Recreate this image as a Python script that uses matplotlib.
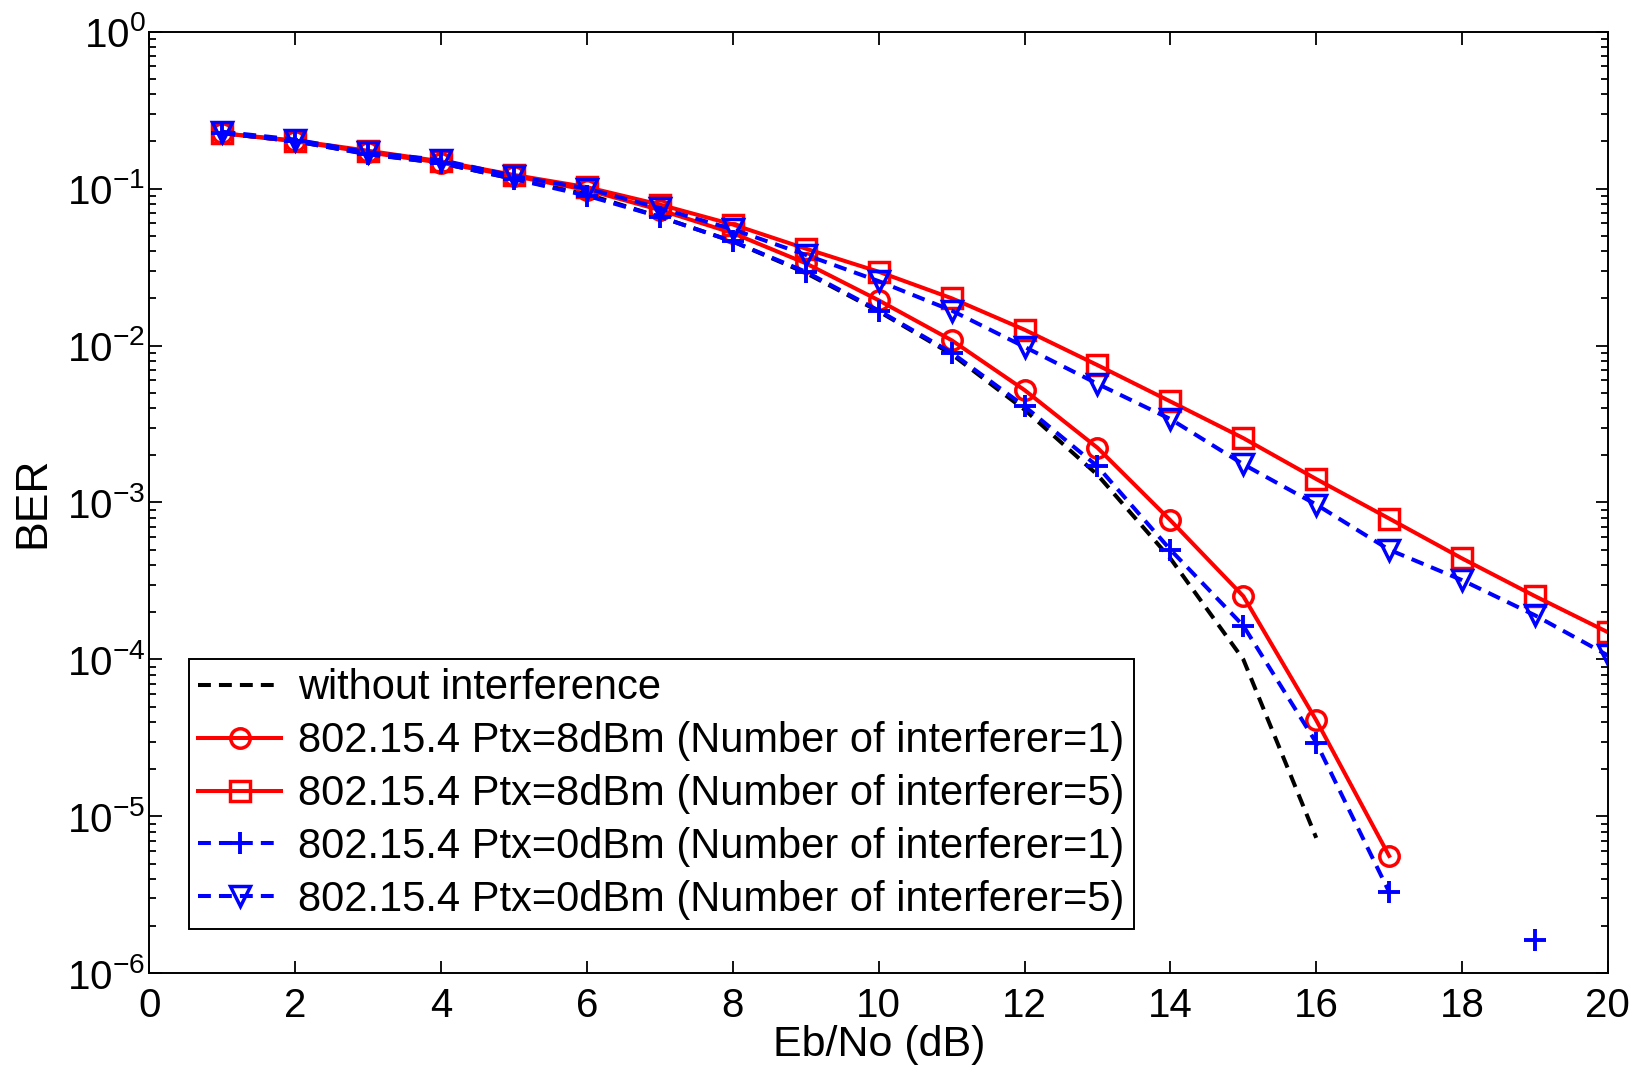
import numpy as np
import matplotlib
matplotlib.use("Agg")
import matplotlib.pyplot as plt
from matplotlib.ticker import LogLocator, NullFormatter

plt.rcParams['font.family'] = ['Liberation Sans', 'DejaVu Sans']
plt.rcParams['mathtext.fontset'] = 'custom'
plt.rcParams['mathtext.rm'] = 'Liberation Sans'
plt.rcParams['mathtext.it'] = 'Liberation Sans:italic'
plt.rcParams['mathtext.bf'] = 'Liberation Sans:bold'

# Eb/No axis (dB)
ebno = np.arange(1, 21)
ebno_ref = np.arange(1, 17)
ebno_c1 = np.arange(1, 18)

# BER
ber_no_interf = [0.225, 0.2, 0.166, 0.145, 0.115, 0.092, 0.066, 0.046,
                 0.029, 0.0165, 0.0088, 0.0039, 0.0015, 0.00044, 1.0e-4, 7.3e-6]
ber_8dbm_n1 = [0.225, 0.2, 0.17, 0.146, 0.12, 0.098, 0.073, 0.052,
               0.0334, 0.0194, 0.0108, 0.0052, 0.00223, 0.00077, 0.000253,
               4.1e-5, 5.6e-6]
ber_8dbm_n5 = [0.225, 0.202, 0.174, 0.149, 0.122, 0.102, 0.079, 0.059,
               0.0414, 0.0295, 0.020, 0.0126, 0.0075, 0.0044, 0.00257,
               0.00141, 0.00079, 0.00044, 0.000253, 0.000149]
ber_0dbm_n1 = [0.225, 0.2, 0.165, 0.145, 0.115, 0.09, 0.066, 0.046,
               0.0295, 0.0167, 0.009, 0.0041, 0.0017, 0.0005, 0.000164,
               2.95e-5, 3.3e-6, None, 1.64e-6, None]
ber_0dbm_n5 = [0.23, 0.205, 0.17, 0.152, 0.12, 0.1, 0.075, 0.055,
               0.0378, 0.0257, 0.0167, 0.0098, 0.0057, 0.0034, 0.00175,
               0.00097, 0.0005, 0.00032, 0.000191, 0.000106]

labels = ["without interference",
          "802.15.4 Ptx=8dBm (Number of interferer=1)",
          "802.15.4 Ptx=8dBm (Number of interferer=5)",
          "802.15.4 Ptx=0dBm (Number of interferer=1)",
          "802.15.4 Ptx=0dBm (Number of interferer=5)"]


def arr(v):
    return np.array([np.nan if x is None else x for x in v], dtype=float)


fig = plt.figure(figsize=(16.5, 10.74), dpi=100)
ax = fig.add_axes([0.0906, 0.0937, 0.8839, 0.8769])

lw = 2.9
dash = (3.2, 2.0)
ax.plot(ebno_ref, ber_no_interf, color='black', lw=lw, ls=(0, dash), label=labels[0])
ax.plot(ebno_c1, ber_8dbm_n1, color='red', lw=lw, marker='o', ms=14,
        mfc='none', mew=2.5, label=labels[1])
ax.plot(ebno, ber_8dbm_n5, color='red', lw=lw, marker='s', ms=14,
        mfc='none', mew=2.5, label=labels[2])
ax.plot(ebno, arr(ber_0dbm_n1), color='blue', lw=lw, ls=(0, dash), marker='+',
        ms=16, mew=2.8, label=labels[3])
ax.plot(ebno, ber_0dbm_n5, color='blue', lw=lw, ls=(0, dash), marker='v', ms=15,
        mfc='none', mew=2.5, label=labels[4])

ax.set_yscale('log')
ax.set_xlim(0, 20)
ax.set_ylim(1e-6, 1)
ax.set_xticks(np.arange(0, 21, 2))
ax.yaxis.set_major_locator(LogLocator(base=10, numticks=10))
ax.yaxis.set_minor_locator(LogLocator(base=10, subs=np.arange(2, 10), numticks=20))
ax.yaxis.set_minor_formatter(NullFormatter())
ax.tick_params(which='both', direction='in', top=True, right=True,
               labelsize=29, width=1.3)
ax.tick_params(which='major', length=9)
ax.tick_params(axis='x', which='major', pad=10)
ax.tick_params(axis='y', which='major', pad=3)
ax.tick_params(which='minor', length=5)
for s in ax.spines.values():
    s.set_linewidth(1.4)

ax.set_xlabel("Eb/No (dB)", fontsize=31, labelpad=0)
ax.set_ylabel("BER", fontsize=32, labelpad=10)

leg = ax.legend(loc='lower left', bbox_to_anchor=(0.027, 0.047), fontsize=30,
                fancybox=False, framealpha=1, edgecolor='black',
                handlelength=2.0, handletextpad=0.4, labelspacing=0.31,
                borderpad=0.22, borderaxespad=0)
leg.get_frame().set_linewidth(1.4)

fig.savefig("out.png", dpi=100)
